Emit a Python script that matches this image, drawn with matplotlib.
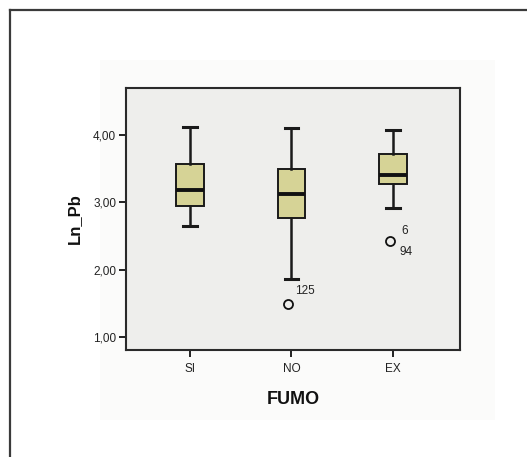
import matplotlib
matplotlib.use("Agg")
import matplotlib.pyplot as plt
from matplotlib.patches import Rectangle

plt.rcParams['font.family'] = ['Liberation Sans', 'DejaVu Sans']

categories = ["SI", "NO", "EX"]
whisker_low = [2.65, 1.86, 2.91]
q1 = [2.95, 2.77, 3.28]
medians = [3.19, 3.12, 3.41]
q3 = [3.57, 3.49, 3.72]
whisker_high = [4.12, 4.10, 4.08]
outliers = [[], [1.49], [2.42]]
outlier_ids = [[], ["125"], ["6\n94"]]
yticks = [1.0, 2.0, 3.0, 4.0]
ytick_labels = ["1,00", "2,00", "3,00", "4,00"]

fig = plt.figure(figsize=(5.27, 4.57), dpi=100)
fig.patch.set_facecolor("white")

# page frame (top and left edges)
fig.add_artist(plt.Line2D([9.5 / 527, 1.0], [1 - 9.5 / 457] * 2, color="#3a3a3a", lw=1.6))
fig.add_artist(plt.Line2D([9.5 / 527] * 2, [0.0, 1 - 9.5 / 457], color="#3a3a3a", lw=1.6))
# soft chart area
fig.add_artist(Rectangle((100 / 527, 1 - 420 / 457), 395 / 527, 360 / 457,
                         transform=fig.transFigure, facecolor="#fbfbfa",
                         edgecolor="none", zorder=0))

ax = fig.add_axes([126 / 527, 1 - 350 / 457, 334 / 527, 262 / 457])
ax.set_facecolor("#eeeeec")

stats = []
for i, c in enumerate(categories):
    stats.append(dict(label=c, whislo=whisker_low[i], q1=q1[i], med=medians[i],
                      q3=q3[i], whishi=whisker_high[i], fliers=[]))

positions = [1, 2, 3]
ax.bxp(stats, positions=positions, widths=0.27, patch_artist=True, showfliers=False,
       boxprops=dict(facecolor="#d6d396", edgecolor="#1a1a1a", linewidth=1.4),
       medianprops=dict(color="#111111", linewidth=2.8),
       whiskerprops=dict(color="#1a1a1a", linewidth=1.8),
       capprops=dict(color="#1a1a1a", linewidth=2.2),
       capwidths=0.13)

for p, vals, ids in zip(positions, outliers, outlier_ids):
    for v, lab in zip(vals, ids):
        ax.plot([p - 0.03], [v], marker="o", markersize=6.5, markerfacecolor="none",
                markeredgecolor="#111111", markeredgewidth=1.3, linestyle="none")
        if "\n" in lab:
            top, bot = lab.split("\n")
            ax.annotate(top, (p - 0.03, v), xytext=(8, 3), textcoords="offset points",
                        fontsize=8.5, color="#222222", va="bottom", ha="left")
            ax.annotate(bot, (p - 0.03, v), xytext=(7, -3), textcoords="offset points",
                        fontsize=8.5, color="#222222", va="top", ha="left")
        else:
            ax.annotate(lab, (p - 0.03, v), xytext=(5, 5), textcoords="offset points",
                        fontsize=8.5, color="#222222", va="bottom", ha="left")

ax.set_xlim(0.37, 3.66)
ax.set_ylim(0.807, 4.70)
ax.set_yticks(yticks)
ax.set_yticklabels(ytick_labels)
ax.set_xticks(positions)
ax.set_xticklabels(categories)
ax.tick_params(axis="both", direction="out", length=5, width=1.4, color="#222222",
               labelsize=8.5, labelcolor="#222222", pad=2)
ax.tick_params(axis="x", pad=4)
for s in ax.spines.values():
    s.set_color("#2a2a2a")
    s.set_linewidth(1.5)

ax.set_ylabel("Ln_Pb", fontsize=12, fontweight="bold", color="#111111", labelpad=8)
ax.set_xlabel("FUMO", fontsize=13, fontweight="bold", color="#111111", labelpad=12)

fig.savefig("out.png", dpi=100)
